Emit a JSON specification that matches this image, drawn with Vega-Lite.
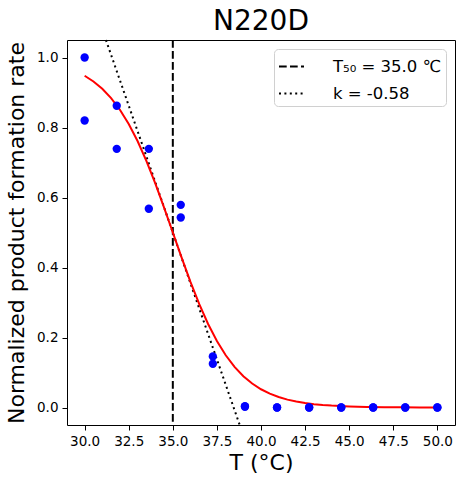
{
  "$schema": "https://vega.github.io/schema/vega-lite/v6.json",
  "autosize": {"type": "none"},
  "width": 388,
  "height": 385,
  "padding": {"left": 67, "top": 40, "right": 9, "bottom": 62},
  "background": "white",
  "title": {"text": "N220D", "fontSize": 28, "font": "DejaVu Sans", "fontWeight": "normal", "color": "black", "anchor": "middle", "offset": 0},
  "datasets": {
    "points": [
      {"T": 30.0, "rate": 1.0}, {"T": 30.0, "rate": 0.82},
      {"T": 31.82, "rate": 0.862}, {"T": 31.82, "rate": 0.739},
      {"T": 33.64, "rate": 0.739}, {"T": 33.64, "rate": 0.568},
      {"T": 35.45, "rate": 0.579}, {"T": 35.45, "rate": 0.543},
      {"T": 37.27, "rate": 0.146}, {"T": 37.27, "rate": 0.125},
      {"T": 39.09, "rate": 0.004}, {"T": 39.09, "rate": 0.002},
      {"T": 40.91, "rate": 0.0}, {"T": 40.91, "rate": 0.0},
      {"T": 42.73, "rate": 0.0}, {"T": 42.73, "rate": 0.0},
      {"T": 44.55, "rate": 0.0}, {"T": 44.55, "rate": 0.0},
      {"T": 46.36, "rate": 0.0}, {"T": 46.36, "rate": 0.0},
      {"T": 48.18, "rate": 0.0}, {"T": 48.18, "rate": 0.0},
      {"T": 50.0, "rate": 0.0}, {"T": 50.0, "rate": 0.0}
    ],
    "fit": [
      {"T": 30.0, "rate": 0.9479}, {"T": 30.5, "rate": 0.9315}, {"T": 31.0, "rate": 0.9105},
      {"T": 31.5, "rate": 0.8839}, {"T": 32.0, "rate": 0.8507}, {"T": 32.5, "rate": 0.81},
      {"T": 33.0, "rate": 0.7613}, {"T": 33.5, "rate": 0.7047}, {"T": 34.0, "rate": 0.6411},
      {"T": 34.5, "rate": 0.572}, {"T": 35.0, "rate": 0.5}, {"T": 35.5, "rate": 0.428},
      {"T": 36.0, "rate": 0.3589}, {"T": 36.5, "rate": 0.2953}, {"T": 37.0, "rate": 0.2387},
      {"T": 37.5, "rate": 0.19}, {"T": 38.0, "rate": 0.1493}, {"T": 38.5, "rate": 0.1161},
      {"T": 39.0, "rate": 0.0895}, {"T": 39.5, "rate": 0.0685}, {"T": 40.0, "rate": 0.0521},
      {"T": 40.5, "rate": 0.0395}, {"T": 41.0, "rate": 0.0299}, {"T": 41.5, "rate": 0.0225},
      {"T": 42.0, "rate": 0.017}, {"T": 42.5, "rate": 0.0127}, {"T": 43.0, "rate": 0.0096},
      {"T": 43.5, "rate": 0.0072}, {"T": 44.0, "rate": 0.0054}, {"T": 45.0, "rate": 0.003},
      {"T": 46.0, "rate": 0.0017}, {"T": 47.0, "rate": 0.0009}, {"T": 48.0, "rate": 0.0005},
      {"T": 49.0, "rate": 0.0003}, {"T": 50.0, "rate": 0.0002}
    ],
    "t50": [
      {"T": 35.0, "series": "T₅₀ = 35.0 ℃"}
    ],
    "tangent": [
      {"T": 31.207, "rate": 1.05, "series": "k = -0.58"},
      {"T": 38.793, "rate": -0.05, "series": "k = -0.58"}
    ]
  },
  "encoding": {
    "x": {
      "field": "T", "type": "quantitative",
      "scale": {"domain": [29, 51], "nice": false, "zero": false},
      "axis": {"title": "T (°C)", "values": [30, 32.5, 35, 37.5, 40, 42.5, 45, 47.5, 50], "format": ".1f"}
    },
    "y": {
      "field": "rate", "type": "quantitative",
      "scale": {"domain": [-0.05, 1.05], "nice": false, "zero": false},
      "axis": {"title": "Normalized product formation rate", "values": [0, 0.2, 0.4, 0.6, 0.8, 1.0], "format": ".1f"}
    }
  },
  "layer": [
    {
      "data": {"name": "t50"},
      "mark": {"type": "rule", "color": "black", "strokeWidth": 2},
      "encoding": {
        "y": null,
        "strokeDash": {
          "field": "series", "type": "nominal",
          "scale": {"domain": ["T₅₀ = 35.0 ℃", "k = -0.58"], "range": [[7.7, 3.3], [2, 3.4]]},
          "legend": {"title": null}
        }
      }
    },
    {
      "data": {"name": "tangent"},
      "mark": {"type": "line", "color": "black", "strokeWidth": 2},
      "encoding": {
        "strokeDash": {"field": "series", "type": "nominal"}
      }
    },
    {
      "data": {"name": "fit"},
      "mark": {"type": "line", "color": "#ff0000", "strokeWidth": 2},
      "encoding": {}
    },
    {
      "data": {"name": "points"},
      "mark": {"type": "circle", "color": "#0000ff", "opacity": 1, "size": 70},
      "encoding": {}
    }
  ],
  "config": {
    "font": "DejaVu Sans",
    "view": {"stroke": "black", "strokeWidth": 1},
    "axis": {
      "grid": false,
      "domain": false,
      "tickColor": "black",
      "tickSize": 5,
      "tickWidth": 1,
      "labelColor": "black",
      "labelFont": "DejaVu Sans",
      "labelFontSize": 13.5,
      "labelPadding": 4,
      "titleFont": "DejaVu Sans",
      "titleFontSize": 22,
      "titleFontWeight": "normal",
      "titleColor": "black"
    },
    "axisX": {"titlePadding": 5, "labelFlush": false},
    "axisY": {"titlePadding": 8, "labelFlush": false},
    "legend": {
      "orient": "none",
      "legendX": 207,
      "legendY": 9,
      "fillColor": "white",
      "strokeColor": "#d0d0d0",
      "cornerRadius": 4,
      "padding": 4,
      "labelFont": "DejaVu Sans",
      "labelFontSize": 16.5,
      "labelColor": "black",
      "symbolType": "stroke",
      "symbolSize": 625,
      "symbolStrokeColor": "black",
      "symbolStrokeWidth": 2,
      "rowPadding": 5,
      "labelOffset": 28
    }
  }
}
